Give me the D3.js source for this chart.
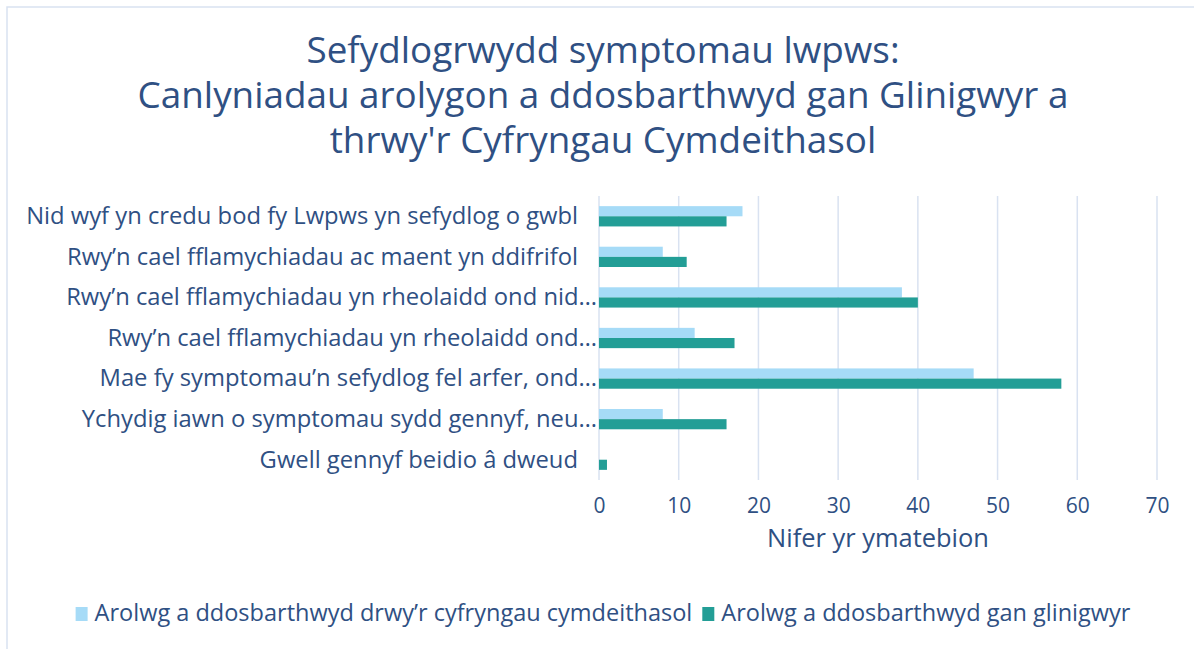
<!DOCTYPE html>
<html><head><meta charset="utf-8">
<script src="https://cdn.jsdelivr.net/npm/d3@7"></script>
<style>body{margin:0;background:#fff}svg{display:block}</style>
</head><body>
<script>
const categories = [
  "Nid wyf yn credu bod fy Lwpws yn sefydlog o gwbl",
  "Rwy’n cael fflamychiadau ac maent yn ddifrifol",
  "Rwy’n cael fflamychiadau yn rheolaidd ond nid…",
  "Rwy’n cael fflamychiadau yn rheolaidd ond…",
  "Mae fy symptomau’n sefydlog fel arfer, ond…",
  "Ychydig iawn o symptomau sydd gennyf, neu…",
  "Gwell gennyf beidio â dweud"
];
const seriesNames = ["Arolwg a ddosbarthwyd drwy’r cyfryngau cymdeithasol", "Arolwg a ddosbarthwyd gan glinigwyr"];
const socialMedia = [18, 8, 38, 12, 47, 8, 0];
const clinicians = [16, 11, 40, 17, 58, 16, 1];
const xTicks = [0, 10, 20, 30, 40, 50, 60, 70];
const titleLines = ["Sefydlogrwydd symptomau lwpws:", "Canlyniadau arolygon a ddosbarthwyd gan Glinigwyr a", "thrwy'r Cyfryngau Cymdeithasol"];
const axisTitle = "Nifer yr ymatebion";

const W = 1194, H = 649;
const textColor = "#2f5083", colors = ["#a6dbf7", "#239e96"], gridColor = "#d9e2f1";
const font = "'Open Sans', 'Noto Sans', sans-serif";
const svg = d3.select("body").append("svg").attr("width", W).attr("height", H)
  .style("font-family", font).style("font-weight", 400);

// fit the font size of a text selection so the widest text has the target width
function fit(sel, target) {
  let maxw = 0;
  sel.each(function () { maxw = Math.max(maxw, this.getComputedTextLength()); });
  const fs = parseFloat(sel.attr("font-size"));
  sel.attr("font-size", fs * target / maxw);
}

// border (left & top visible)
svg.append("rect").attr("x", 7).attr("y", 7).attr("width", W + 10).attr("height", H + 10)
  .attr("fill", "none").attr("stroke", gridColor).attr("stroke-width", 1.5);

// title
const title = svg.append("g").selectAll("text").data(titleLines).join("text")
  .attr("x", 603).attr("y", (d, i) => 63 + i * 45)
  .attr("text-anchor", "middle").attr("fill", textColor).attr("font-size", 34).text(d => d);
fit(title, 931);

const x = d3.scaleLinear().domain([0, 70]).range([599, 1157]);
const y = d3.scaleBand().domain(categories).range([196, 480]).paddingInner(0.5).paddingOuter(0.25);
const sub = d3.scaleBand().domain([0, 1]).range([0, y.bandwidth()]);

// gridlines
svg.append("g").selectAll("line").data(xTicks).join("line")
  .attr("x1", d => x(d)).attr("x2", d => x(d)).attr("y1", 196).attr("y2", 480)
  .attr("stroke", gridColor).attr("stroke-width", 1.5);

// bars
[socialMedia, clinicians].forEach((vals, si) => {
  svg.append("g").selectAll("rect").data(vals).join("rect")
    .attr("x", x(0)).attr("y", (d, i) => y(categories[i]) + sub(si))
    .attr("width", d => x(d) - x(0)).attr("height", sub.bandwidth())
    .attr("fill", colors[si]);
});

// x axis
const xAxis = svg.append("g").attr("transform", "translate(0,480)")
  .call(d3.axisBottom(x).tickValues(xTicks).tickSize(0).tickPadding(0));
xAxis.select(".domain").remove();
xAxis.selectAll(".tick text").attr("fill", textColor).attr("font-size", 21).attr("font-family", font)
  .attr("y", 33).attr("dy", null);

// y axis labels (truncated labels let the ellipsis overhang toward the axis)
const yAxis = svg.append("g").attr("transform", "translate(578,0)")
  .call(d3.axisLeft(y).tickSize(0).tickPadding(0));
yAxis.select(".domain").remove();
const ylab = yAxis.selectAll(".tick text").attr("fill", textColor).attr("font-size", 22)
  .attr("font-family", font).attr("dy", "0.33em");
fit(ylab.filter(d => !d.endsWith("…")), 552);
ylab.filter(d => d.endsWith("…")).attr("font-size", ylab.attr("font-size")).attr("x", 19);

// axis title
const at = svg.append("text").attr("x", 878).attr("y", 547).attr("text-anchor", "middle")
  .attr("fill", textColor).attr("font-size", 22).text(axisTitle);
fit(at, 222);

// legend
const leg = svg.append("g");
const items = seriesNames.map((n, i) => {
  const g = leg.append("g");
  g.append("rect").attr("x", 0).attr("y", -14).attr("width", 12).attr("height", 14).attr("fill", colors[i]);
  const t = g.append("text").attr("x", 19).attr("y", 0).attr("fill", textColor).attr("font-size", 20).text(n);
  return { g, t };
});
fit(d3.selectAll(items.map(o => o.t.node())), 598);
const widths = items.map(o => 19 + o.t.node().getComputedTextLength());
const total = widths[0] + 10 + widths[1];
let cx = 603 - total / 2;
items.forEach((o, i) => {
  o.g.attr("transform", `translate(${cx},621)`);
  cx += widths[i] + 10;
});
</script>
</body></html>
